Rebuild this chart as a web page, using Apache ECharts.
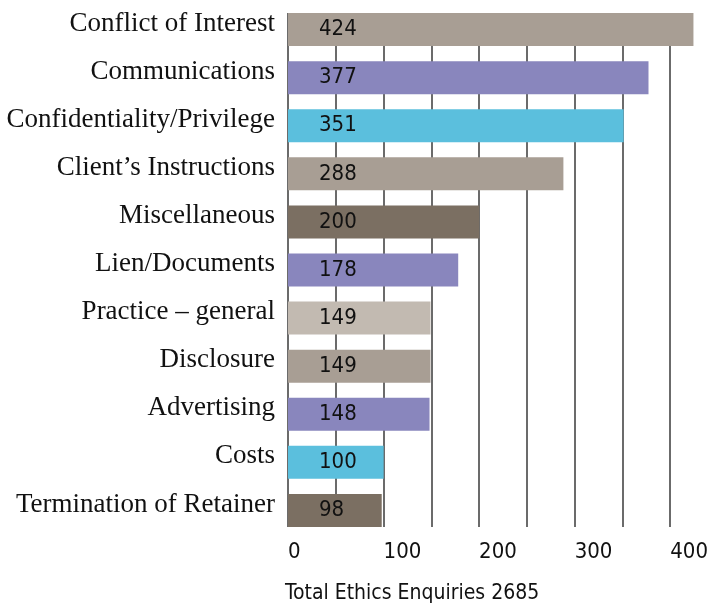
<!DOCTYPE html>
<html>
<head>
<meta charset="utf-8">
<script src="https://cdn.jsdelivr.net/npm/echarts@6/dist/echarts.min.js"></script>
<style>
html,body{margin:0;padding:0;background:#fff;}
#chart{width:711px;height:607px;}
</style>
</head>
<body>
<div id="chart"></div>
<script>
const categories = ["Conflict of Interest","Communications","Confidentiality/Privilege","Client\u2019s Instructions","Miscellaneous","Lien/Documents","Practice \u2013 general","Disclosure","Advertising","Costs","Termination of Retainer"];
const values = [424,377,351,288,200,178,149,149,148,100,98];
const barColors = ["#a89e94","#8986bd","#5bbfdd","#a89e94","#7b6f62","#8986bd","#c2bab1","#a89e94","#8986bd","#5bbfdd","#7b6f62"];
const xTickLabels = ["0","100","200","300","400"];
const titleText = "Total Ethics Enquiries 2685";

const condensed = '"Liberation Sans Narrow","DejaVu Sans Condensed","Roboto Condensed",sans-serif';
const serif = '"Liberation Serif","DejaVu Serif",serif';

const chart = echarts.init(document.getElementById('chart'), null, {renderer:'canvas'});
chart.setOption({
  animation:false,
  backgroundColor:'#fff',
  title:{
    text:titleText, left:285, top:583, padding:0,
    textStyle:{fontFamily:condensed, fontSize:21, fontWeight:'normal', color:'#111'}
  },
  grid:[
    {left:288, top:5.5, width:406.4, height:529, containLabel:false},
    {left:288, top:13, width:382.5, height:514, containLabel:false}
  ],
  xAxis:[
    {gridIndex:0, type:'value', min:0, max:425, show:false},
    {gridIndex:1, type:'value', min:0, max:400, interval:50,
      axisLine:{show:false}, axisTick:{show:false},
      splitLine:{show:true, lineStyle:{color:'#3a3a3a', width:1.5}},
      axisLabel:{
        align:'left', margin:14, color:'#111', fontFamily:condensed, fontSize:22,
        formatter:function(v){ const s=String(v); return xTickLabels.indexOf(s)>=0 ? s : ''; }
      }
    }
  ],
  yAxis:[
    {gridIndex:0, type:'category', inverse:true, data:categories,
      axisLine:{show:false}, axisTick:{show:false}, splitLine:{show:false},
      axisLabel:{margin:13, formatter:function(v){ return '{c|' + v + '}'; },
        rich:{c:{color:'#111', fontFamily:serif, fontSize:27, padding:[0,0,12,0]}}
      }
    },
    {gridIndex:1, type:'value', min:0, max:1, show:false}
  ],
  series:[{
    type:'bar', xAxisIndex:0, yAxisIndex:0, barWidth:33,
    data: values.map((v,i)=>({value:v, itemStyle:{color:barColors[i]}})),
    label:{show:true, position:'insideLeft', distance:31, color:'#111', fontFamily:condensed, fontSize:22}
  }]
});
</script>
</body>
</html>
